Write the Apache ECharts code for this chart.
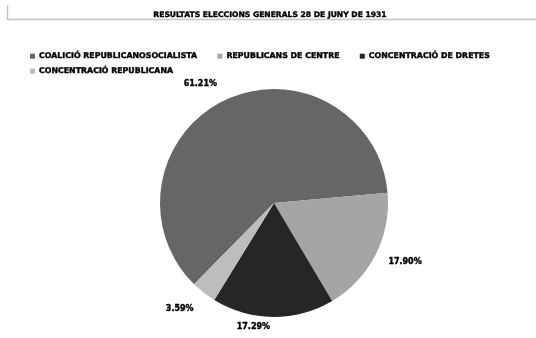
<!DOCTYPE html>
<html><head><meta charset="utf-8">
<script src="https://cdn.jsdelivr.net/npm/echarts@6/dist/echarts.min.js"></script>
<style>html,body{margin:0;padding:0;background:#fff}#c{width:536px;height:338px}</style>
</head><body><div id="c"></div>
<script>
const categories = ["COALICIÓ REPUBLICANOSOCIALISTA","REPUBLICANS DE CENTRE","CONCENTRACIÓ DE DRETES","CONCENTRACIÓ REPUBLICANA"];
const values = [61.21, 17.90, 17.29, 3.59];
const colors = ["#666666","#a5a5a5","#262626","#bdbdbd"];
const titleText = "RESULTATS ELECCIONS GENERALS 28 DE JUNY DE 1931";

const chart = echarts.init(document.getElementById('c'));
const font = "'DejaVu Sans', sans-serif";
const labelOffsets = [[3,-7],[-3,2],[4,0],[3,8]];
const heavy = {textBorderColor: '#000', textBorderWidth: 0.4};
const legendText = Object.assign({fontFamily: font, fontSize: 7.85, fontWeight: 'bold', color: '#000', padding: [0,0,0,-1]}, heavy);
chart.setOption({
  animation: false,
  title: {text: titleText, left: 265, textAlign: 'center', top: 6,
    textStyle: Object.assign({fontFamily: font, fontSize: 7.6, fontWeight: 'bold', color: '#000'}, heavy)},
  graphic: [
    {type: 'polyline', shape: {points: [[7.5,5],[7.5,19.5],[536,19.5]]}, style: {stroke: '#c4c4c4', lineWidth: 1.5, fill: null}}
  ],
  legend: [{
    left: 30, top: 52, padding: 0, itemWidth: 5, itemHeight: 5, itemGap: 20,
    icon: 'rect', textStyle: legendText, data: categories.slice(0,3)
  },{
    left: 30, top: 67, padding: 0, itemWidth: 5, itemHeight: 5, itemGap: 20,
    icon: 'rect', textStyle: legendText, data: categories.slice(3)
  }],
  series: [{
    type: 'pie', center: [274, 203], radius: 114,
    startAngle: 225.5, clockwise: true,
    label: Object.assign({show: true, position: 'outside', formatter: p => p.value.toFixed(2) + '%',
      fontFamily: font, fontSize: 8, fontWeight: 'bold', color: '#000'}, heavy),
    labelLine: {show: false, length: 10, length2: 2},
    itemStyle: {borderWidth: 0},
    data: categories.map((c,i) => ({name: c, value: values[i], itemStyle: {color: colors[i]}, label: {offset: labelOffsets[i]}}))
  }]
});
</script></body></html>
